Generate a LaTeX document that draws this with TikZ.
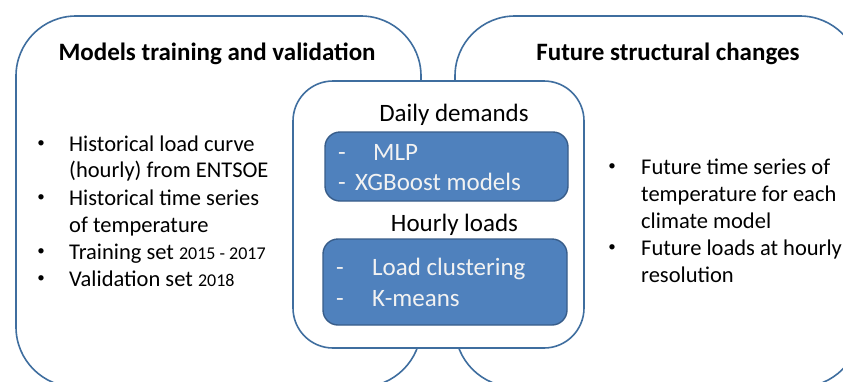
\documentclass[tikz,border=0pt]{standalone}
\usepackage{fontspec}
\setmainfont{Carlito}
\definecolor{paneledge}{HTML}{3F6E9F}
\definecolor{bluefill}{HTML}{4F81BD}
\definecolor{blueedge}{HTML}{385D8A}
\begin{document}
\begin{tikzpicture}[x=1pt,y=-1pt,
  panel/.style={draw=paneledge,line width=1.6pt,rounded corners=60pt,fill=white,inner sep=0pt},
  midpanel/.style={draw=paneledge,line width=1.6pt,rounded corners=40pt,fill=white,inner sep=0pt},
  bluebox/.style={draw=blueedge,line width=1.4pt,rounded corners=15pt,fill=bluefill,inner sep=0pt},
  title/.style={font=\fontsize{25}{30}\selectfont\bfseries,anchor=mid,inner sep=0pt},
  midtitle/.style={font=\fontsize{25}{30}\selectfont,anchor=mid,inner sep=0pt},
  body/.style={font=\fontsize{22.5}{27}\selectfont,anchor=mid west,inner sep=0pt},
  bul/.style={font=\fontsize{15}{18}\selectfont,anchor=center,inner sep=0pt},
  wtext/.style={font=\fontsize{25}{30}\selectfont,anchor=mid west,inner sep=0pt,text=white!95!black},
  wdash/.style={font=\fontsize{25}{30}\selectfont,anchor=mid,inner sep=0pt,text=white!95!black}]
\useasboundingbox (0,0) rectangle (843,381);
\begin{scope}
\clip (0,0) rectangle (843,381);
\node[panel,minimum width=405pt,minimum height=371pt] (left) at (218.5,201.5) {};
\node[panel,minimum width=405pt,minimum height=371pt] (right) at (657.5,201.5) {};
\end{scope}
\node[midpanel,minimum width=291pt,minimum height=267pt] (mid) at (438.5,214.5) {};
\node[bluebox,minimum width=243pt,minimum height=69pt] (blueA) at (446.5,166.5) {};
\node[bluebox,minimum width=244pt,minimum height=86pt] (blueB) at (445,282) {};

\begin{scope}[yshift=-6pt]
\node[title] (tL) at (217,52) {Models training and validation};
\node[title] (tR) at (668,52) {Future structural changes};

\node[midtitle] (daily) at (454,113) {Daily demands};
\node[midtitle] (hourly) at (454.5,223) {Hourly loads};

\node[wdash] (d1) at (342,152) {-};
\node[wtext] (mlp) at (373,152) {MLP};
\node[wdash] (d2) at (342,182) {-};
\node[wtext] (xgb) at (355,182) {XGBoost models};
\node[wdash] (d3) at (340,267) {-};
\node[wtext] (clu) at (372,267) {Load clustering};
\node[wdash] (d4) at (340,298) {-};
\node[wtext] (km) at (372,298) {K-means};

\node[bul] (b1) at (41,138) {•};
\node[body] (l1) at (69,143) {Historical load curve};
\node[body] (l2) at (69,169) {(hourly) from ENTSOE};
\node[bul] (b2) at (41,192) {•};
\node[body] (l3) at (69,197) {Historical time series};
\node[body] (l4) at (69,224) {of temperature};
\node[bul] (b3) at (41,246) {•};
\node[body] (l5) at (69,251) {Training set {\fontsize{18}{22}\selectfont 2015 - 2017}};
\node[bul] (b4) at (41,273) {•};
\node[body] (l6) at (69,278) {Validation set {\fontsize{18}{22}\selectfont 2018}};

\node[bul] (r1) at (612,161) {•};
\node[body] (rl1) at (641,166) {Future time series of};
\node[body] (rl2) at (641,193) {temperature for each};
\node[body] (rl3) at (641,220) {climate model};
\node[bul] (r2) at (612,242) {•};
\node[body] (rl4) at (641,247) {Future loads at hourly};
\node[body] (rl5) at (641,274) {resolution};
\end{scope}
\end{tikzpicture}
\end{document}
